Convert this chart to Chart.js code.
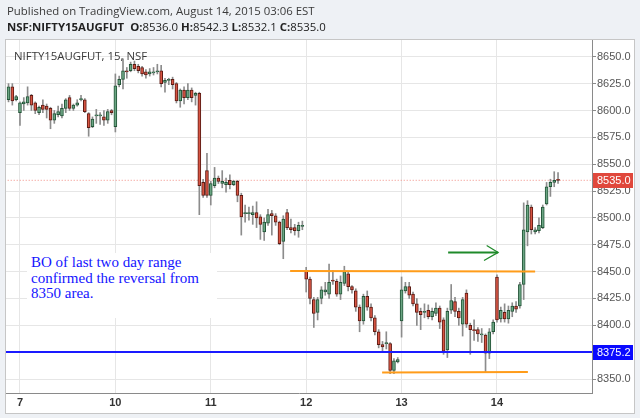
<!DOCTYPE html>
<html><head><meta charset="utf-8">
<script src="https://cdn.jsdelivr.net/npm/chart.js@4.4.1/dist/chart.umd.min.js"></script>
<style>
html,body{margin:0;padding:0;background:#eef1f5;}
#wrap{position:relative;width:640px;height:418px;overflow:hidden;background:#eef1f5;}
#panel{position:absolute;left:5px;top:39px;width:630px;height:375px;background:#fff;border:1.5px solid #c6c6c6;box-sizing:border-box;}
#c{position:absolute;left:0;top:0;}
.t1{position:absolute;left:7px;top:3px;font:11.4px "Open Sans",sans-serif;color:#3a3a3a;white-space:nowrap;}
.t2{position:absolute;left:7px;top:19px;font:11.4px "Open Sans",sans-serif;color:#222;white-space:nowrap;}
.t2 b{font-weight:700;}
.t3{position:absolute;left:14px;top:48px;font:11.4px "Open Sans",sans-serif;color:#3a3a3a;white-space:nowrap;}
#note{position:absolute;left:27px;top:253px;width:190px;height:65px;background:#fff;box-sizing:border-box;padding:2px 0 0 4px;font:15px "Liberation Serif",serif;color:#1414ff;line-height:15.6px;white-space:nowrap;}
</style></head>
<body><div id="wrap">
<div id="panel"></div>
<canvas id="c" width="640" height="418"></canvas>
<div class="t1">Published on TradingView.com, August 14, 2015 03:06 EST</div>
<div class="t2"><b>NSF:NIFTY15AUGFUT</b>&nbsp; <b>O:</b>8536.0 <b>H:</b>8542.3 <b>L:</b>8532.1 <b>C:</b>8535.0</div>
<div class="t3">NIFTY15AUGFUT, 15, NSF</div>
<div id="note">BO of last two day range<br>confirmed the reversal from<br>8350 area.</div>
</div>
<script>
const dayLabels = ['7','10','11','12','13','14'];
const dayStart = [3,28,53,78,103,128];
const priceTicks = [8350,8375,8400,8425,8450,8475,8500,8525,8550,8575,8600,8625,8650];

const opens = [8610,8622,8610,
8598,8606,8607,8614,8607,8598,8605,8604,8602,8591,8596,8595,8602,8612,8602,8605,8610,8610,8597,8585,8595,8595,8594,8591,8600,
8585,8624,8629,8637,8637,8643,8641,8640,8636,8634,8635,8636,8637,8626,8628,8629,8625,8609,8619,8612,8619,8614,8616,8533,8544,
8521,8530,8537,8532,8531,8535,8531,8534,8521,8504,8504,8503,8505,8501,8487,8495,8504,8502,8496,8478,8505,8491,8491,8488,8492,
8451,8443,8424,8412,8425,8431,8429,8442,8441,8429,8439,8448,8436,8432,8417,8404,8427,8417,8407,8394,8382,8383,8383,8358,8366,
8404,8432,8436,8429,8420,8413,8412,8414,8408,8411,8416,8405,8377,8414,8422,8413,8401,8430,8400,8396,8396,8391,8391,8374,8394,
8445,8406,8412,8406,8413,8418,8418,8438,8487,8510,8487,8488,8491,8513,8529,8533,8536];
const highs = [8625,8625,8614,
8608,8612,8622,8615,8608,8604,8610,8606,8603,8600,8604,8606,8611,8614,8606,8610,8614,8611,8598,8594,8601,8598,8600,8601,8601,
8634,8632,8648,8640,8645,8646,8643,8641,8638,8639,8640,8643,8642,8630,8630,8631,8626,8620,8622,8625,8621,8617,8617,8536,8560,
8534,8547,8539,8544,8537,8540,8535,8535,8523,8512,8510,8511,8515,8503,8500,8508,8507,8504,8497,8502,8508,8499,8494,8496,8497,
8454,8445,8426,8426,8436,8440,8457,8451,8443,8446,8455,8450,8437,8434,8419,8429,8432,8420,8409,8396,8385,8394,8384,8369,8370,
8445,8440,8440,8431,8425,8416,8420,8419,8416,8421,8418,8407,8416,8438,8426,8416,8426,8433,8402,8405,8398,8397,8392,8397,8405,
8447,8417,8420,8418,8421,8422,8440,8514,8516,8512,8491,8500,8512,8533,8536,8543,8542.3];
const lows = [8608,8605,8609,
8586,8600,8605,8600,8597,8596,8598,8593,8583,8588,8594,8593,8598,8600,8600,8604,8609,8598,8576,8584,8588,8587,8586,8588,8596,
8580,8622,8620,8630,8636,8637,8635,8632,8630,8632,8633,8634,8622,8617,8624,8620,8607,8603,8606,8610,8608,8605,8503,8519,8519,
8512,8528,8532,8528,8524,8527,8530,8515,8484,8496,8498,8494,8491,8480,8479,8493,8484,8493,8475,8462,8489,8486,8484,8482,8489,
8431,8420,8398,8405,8420,8428,8425,8438,8427,8424,8437,8432,8430,8413,8394,8401,8414,8404,8391,8379,8376,8378,8355,8355,8365,
8389,8430,8425,8418,8400,8396,8407,8406,8405,8409,8397,8373,8370,8411,8408,8400,8390,8398,8373,8386,8385,8384,8356,8369,8392,
8403,8403,8403,8402,8408,8412,8416,8424,8474,8485,8485,8486,8490,8512,8520,8529,8532.1];
const closes = [8622,8609,8613,
8607,8608,8613,8605,8600,8603,8601,8601,8591,8597,8599,8602,8610,8602,8605,8607,8611,8599,8584,8592,8595.5,8596,8591,8599,8598,
8623,8629,8637,8636,8643,8639,8637,8634,8633,8636,8636,8637,8625,8628,8628.5,8624,8609,8619,8612,8619,8612,8616,8530,8521,8521,
8532,8537,8534,8534,8533,8531,8534,8521,8501,8504.5,8505,8505,8500,8494,8496,8503,8502,8496,8476,8499,8491,8489,8488,8493,8493,
8443,8425,8411,8424,8433,8433,8440,8441,8429,8440,8450,8436,8433,8417,8404,8427,8417,8407,8394,8382,8380,8383.5,8358,8367,8368,
8433,8436,8428,8420,8412,8410,8412.5,8408,8413,8416,8403,8376,8413,8423,8413,8407,8424,8401,8396,8395,8392,8392,8374,8394,8403,
8405,8414,8406,8414,8418,8415,8438,8489,8512,8489,8489,8493,8510,8529,8533,8535,8535];

const lastPrice = 8535.0;
const supportLevel = 8375.2;
const rangeTopX = [73.8, 138.0], rangeTopY = [8450.6, 8450.1];
const rangeBotX = [97.9, 136.1], rangeBotY = [8356.0, 8356.6];
const arrowX = [115.2, 128.3], arrowY = [8467.9, 8467.9];
const headX = [125.3, 128.3, 124.6], headY = [8474.4, 8467.9, 8460.4];

const UP='#6ba583', DOWN='#d75442', UPB='#225437', DOWNB='#5b1a13', WICK='#8c8c8c';
const idx = opens.map((_,i)=>i);
const up = idx.map(i=>closes[i]>=opens[i]);
const pts = (xs,ys)=>xs.map((x,i)=>({x:x,y:ys[i]}));

const labelBoxes = {
  id:'labelBoxes',
  afterDraw(chart){
    const ctx=chart.ctx, ys=chart.scales.y, a=chart.chartArea;
    [[lastPrice,'#e0483c'],[supportLevel,'#0a0aff']].forEach(([v,col])=>{
      const py=Math.round(ys.getPixelForValue(v));
      ctx.save();
      ctx.fillStyle=col;
      ctx.fillRect(a.right+1,py-7,40,15);
      ctx.fillStyle='#fff';
      ctx.font='11px "Liberation Sans", Arial, sans-serif';
      ctx.textBaseline='middle';
      ctx.fillText(v.toFixed(1),a.right+5,py+1);
      ctx.restore();
    });
  }
};

new Chart(document.getElementById('c'),{
  type:'bar',
  data:{datasets:[
    {type:'line',data:pts([-1,160],[supportLevel,supportLevel]),borderColor:'#1a1aff',borderWidth:2,pointRadius:0,order:0},
    {type:'line',data:pts([-1,160],[lastPrice,lastPrice]),borderColor:'#f08a80',borderWidth:1,borderDash:[1,2],pointRadius:0,order:3},
    {type:'line',data:pts(rangeTopX,rangeTopY),borderColor:'#ff9c1a',borderWidth:2,pointRadius:0,order:0},
    {type:'line',data:pts(rangeBotX,rangeBotY),borderColor:'#ff9c1a',borderWidth:2,pointRadius:0,order:0},
    {type:'line',data:pts(arrowX,arrowY),borderColor:'#1f8a2a',borderWidth:2,pointRadius:0,order:0},
    {type:'line',data:pts(headX,headY),borderColor:'#1f8a2a',borderWidth:1.2,pointRadius:0,order:0},
    {data:idx.map(i=>({x:i,y:[opens[i],closes[i]]})),backgroundColor:up.map(u=>u?UP:DOWN),borderColor:up.map(u=>u?UPB:DOWNB),
      borderWidth:1,borderSkipped:false,barThickness:3,grouped:false,minBarLength:1,order:1},
    {data:idx.map(i=>({x:i,y:[lows[i],highs[i]]})),backgroundColor:WICK,borderWidth:0,barThickness:1,grouped:false,order:2}
  ]},
  options:{
    responsive:false,animation:false,
    layout:{padding:{left:6,top:40,right:7,bottom:5}},
    plugins:{legend:{display:false},tooltip:{enabled:false}},
    scales:{
      x:{type:'linear',min:-0.66,max:152.9,offset:false,
        grid:{offset:false,color:'#e6e6e6',drawTicks:false},
        border:{display:true,color:'#8a8a8a'},
        afterBuildTicks:s=>{s.ticks=dayStart.map(v=>({value:v}));},
        afterFit:s=>{s.height=20;},
        ticks:{padding:3,autoSkip:false,maxRotation:0,color:'#333',font:{family:'"Liberation Sans", Arial, sans-serif',size:11,weight:'bold'},
          callback:(v)=>dayLabels[dayStart.indexOf(v)]}
      },
      y:{type:'linear',position:'right',min:8337,max:8665.6,
        grid:{color:'#e6e6e6',tickLength:4,tickColor:'#8a8a8a'},
        border:{display:true,color:'#8a8a8a'},
        afterBuildTicks:s=>{s.ticks=priceTicks.map(v=>({value:v}));},
        afterFit:s=>{s.width=41;},
        ticks:{padding:1,color:'#555',font:{family:'"Liberation Sans", Arial, sans-serif',size:11},callback:v=>v.toFixed(1)}
      }
    }
  },
  plugins:[labelBoxes]
});
</script>
</body></html>
